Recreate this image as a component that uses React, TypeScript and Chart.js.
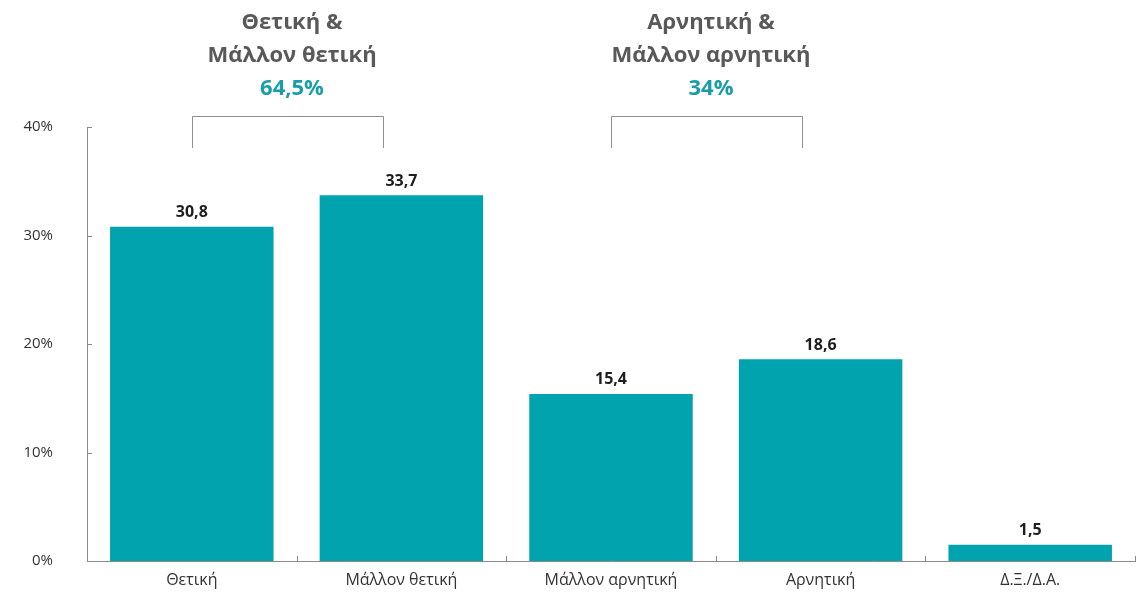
import React, { useEffect, useRef } from "react";
import { Chart, registerables } from "chart.js";

Chart.register(...registerables);

const categories = ["Θετική", "Μάλλον θετική", "Μάλλον αρνητική", "Αρνητική", "Δ.Ξ./Δ.Α."];
const values = [30.8, 33.7, 15.4, 18.6, 1.5];
const yTicks = [0, 10, 20, 30, 40];
const groupTitles = [["Θετική &", "Μάλλον θετική"], ["Αρνητική &", "Μάλλον αρνητική"]];
const groupTotals = ["64,5%", "34%"];
const groupRanges = [[0, 1], [2, 3]];

const FONT = "'Open Sans', 'Noto Sans', sans-serif";
const TEAL = "#00A3AE";
const AXIS = "#8a8a8a";

const overlayPlugin = {
  id: "overlay",
  afterDraw(chart: any) {
    const ctx = chart.ctx;
    const x = chart.scales.x;
    const y = chart.scales.y;
    const area = chart.chartArea;
    ctx.save();
    // inner ticks
    ctx.strokeStyle = AXIS;
    ctx.lineWidth = 1;
    ctx.beginPath();
    yTicks.forEach((t) => {
      const py = Math.round(y.getPixelForValue(t)) + 0.5;
      ctx.moveTo(area.left, py);
      ctx.lineTo(area.left + 5, py);
    });
    for (let i = 1; i <= categories.length; i++) {
      const px = Math.round(x.getPixelForValue(i - 0.5)) + 0.5;
      ctx.moveTo(px, area.bottom);
      ctx.lineTo(px, area.bottom - 5);
    }
    ctx.stroke();

    // value labels
    const meta = chart.getDatasetMeta(0);
    ctx.fillStyle = "#1e1e1e";
    ctx.font = `bold 16px ${FONT}`;
    ctx.textAlign = "center";
    ctx.textBaseline = "bottom";
    meta.data.forEach((bar: any, i: number) => {
      ctx.fillText(values[i].toFixed(1).replace(".", ","), bar.x, bar.y - 6);
    });

    // group brackets and titles
    const step = x.getPixelForValue(1) - x.getPixelForValue(0);
    groupRanges.forEach((r, g) => {
      const x1 = Math.round(x.getPixelForValue(r[0])) + 0.5;
      const x2 = Math.round(x.getPixelForValue(r[1]) - step * 0.09) + 0.5;
      ctx.strokeStyle = "#8f8f8f";
      ctx.beginPath();
      ctx.moveTo(x1, 148);
      ctx.lineTo(x1, 116.5);
      ctx.lineTo(x2, 116.5);
      ctx.lineTo(x2, 148);
      ctx.stroke();
      const cx = (x1 + x2) / 2 + 4;
      ctx.textAlign = "center";
      ctx.textBaseline = "middle";
      ctx.fillStyle = "#595959";
      ctx.font = `bold 22px ${FONT}`;
      ctx.fillText(groupTitles[g][0], cx, 23);
      ctx.fillText(groupTitles[g][1], cx, 56);
      ctx.fillStyle = "#1A9DA8";
      ctx.fillText(groupTotals[g], cx, 89);
    });
    ctx.restore();
  },
};

export default function App() {
  const ref = useRef<HTMLCanvasElement>(null);
  useEffect(() => {
    document.body.style.margin = "0";
    const chart = new Chart(ref.current!, {
      type: "bar",
      data: {
        labels: categories,
        datasets: [
          {
            data: values,
            backgroundColor: TEAL,
            barPercentage: 0.78,
            categoryPercentage: 1,
          },
        ],
      },
      options: {
        animation: false,
        responsive: false,
        maintainAspectRatio: false,
        layout: { padding: { top: 127, right: 1, left: 0, bottom: 0 } },
        plugins: { legend: { display: false }, tooltip: { enabled: false } },
        scales: {
          x: {
            grid: { display: false, drawTicks: false },
            border: { display: true, color: AXIS },
            ticks: { color: "#333", font: { family: FONT, size: 16 }, padding: 10 },
            afterFit: (s: any) => {
              s.height = 36;
              s.paddingLeft = 0;
              s.paddingRight = 0;
            },
          },
          y: {
            min: 0,
            max: 40,
            grid: { display: false, drawTicks: false },
            border: { display: true, color: AXIS },
            ticks: {
              stepSize: 10,
              color: "#333",
              font: { family: FONT, size: 15 },
              padding: 34,
              callback: (v: any) => `${v}%`,
            },
            afterFit: (s: any) => {
              s.width = 87;
              s.paddingTop = 0;
              s.paddingBottom = 0;
            },
          },
        },
      },
      plugins: [overlayPlugin],
    });
    return () => chart.destroy();
  }, []);
  return (
    <div style={{ position: "absolute", left: 0, top: 0, width: 1136, height: 597 }}>
      <canvas ref={ref} width={1136} height={597} />
    </div>
  );
}
